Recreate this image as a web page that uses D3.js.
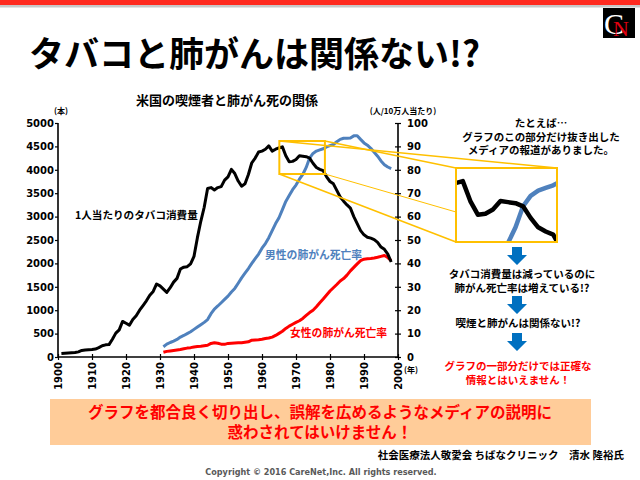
<!DOCTYPE html>
<html><head><meta charset="utf-8">
<script src="https://cdn.jsdelivr.net/npm/d3@7"></script>
<style>
body{margin:0;background:#fff;}
svg{display:block;}
.jp{font-family:"Noto Sans CJK JP","Noto Sans",sans-serif;font-weight:bold;}
.num{font-family:"DejaVu Sans",sans-serif;font-weight:bold;}
</style></head>
<body>
<svg id="c" width="640" height="480"></svg>
<script>
// ---------- data ----------
const cigStart = 1901;
const cigarettes = [75,80,85,90,95,110,140,150,155,160,
  170,200,240,260,265,380,510,580,760,720,
  680,800,880,1000,1100,1200,1320,1400,1560,1520,
  1450,1380,1480,1600,1680,1880,1920,1930,1990,2150,
  2550,2900,3200,3600,3620,3570,3620,3640,3780,3850,
  4010,3920,3760,3650,3700,3900,4150,4250,4380,4400,
  4440,4510,4400,4440,4470,4490,4300,4170,4180,4220,
  4300,4290,4280,4250,4140,4050,4010,3980,3850,3750,
  3700,3560,3420,3330,3250,3180,3000,2850,2700,2610,
  2560,2540,2510,2450,2350,2300,2200,2030];
const rateStart = 1931;
const maleRate = [4.4,5.5,6.2,6.8,7.5,8.5,9.2,10,10.8,11.8,
  12.8,13.8,14.8,16,18.5,20.5,21.8,23.2,24.6,26,
  27.8,29.3,31.5,33.8,35.8,37.8,40,42,44,46.5,
  48.5,51,54,57,59.5,63,66.5,69,71.5,73.5,
  76,78,81,85,87,88,88.5,89,89.8,90.3,
  90.8,92,93,93.5,93.5,93.6,94.5,94.6,93,91.5,
  90.5,89.2,87.5,85.8,83.8,82.2,81.2,80.5];
const femaleRate = [2.0,2.4,2.6,2.8,3.0,3.2,3.5,3.8,4.0,4.3,
  4.5,4.6,4.8,5.0,5.8,6.1,5.9,5.5,5.4,5.8,
  5.9,6.0,6.1,6.1,6.3,6.5,7.2,7.3,7.4,7.6,
  7.9,8.1,8.5,9.2,10.1,11,12.2,13.2,14,14.8,
  15.5,16.5,17.8,19,20,21.5,23.2,24.8,26.5,28.2,
  29.6,31,32.5,33.5,35,36.8,38.3,39.8,41.2,41.8,
  42,42.1,42.3,42.6,43,43.4,42.5,41.2];
const xTicks = [1900,1910,1920,1930,1940,1950,1960,1970,1980,1990,2000];
const leftTicks = [0,500,1000,1500,2000,2500,3000,3500,4000,4500,5000];
const rightTicks = [0,10,20,30,40,50,60,70,80,90,100];
const zoomYears = [1965.1, 1978.5];
const zoomCig = [3910, 4615];

const title = "タバコと肺がんは関係ない!?";
const chartTitle = "米国の喫煙者と肺がん死の関係";
const noteLines = ["たとえば…","グラフのこの部分だけ抜き出した","メディアの報道がありました。"];
const step1 = ["タバコ消費量は減っているのに","肺がん死亡率は増えている!?"];
const step2 = ["喫煙と肺がんは関係ない!?"];
const step3 = ["グラフの一部分だけでは正確な","情報とはいえません！"];
const boxLines = ["グラフを都合良く切り出し、誤解を広めるようなメディアの説明に","惑わされてはいけません！"];

// ---------- drawing ----------
const svg = d3.select("#c");
const BLUE = "#4F81BD", RED = "#FF0000", YEL = "#FFC000", ARW = "#0070C0";

// header bar
svg.append("rect").attr("x",0).attr("y",0).attr("width",640).attr("height",5).attr("fill","#FF2A1F");
svg.append("rect").attr("x",0).attr("y",5).attr("width",640).attr("height",2.5).attr("fill","#C8C8C8");
// logo
svg.append("rect").attr("x",603).attr("y",8).attr("width",32).attr("height",30).attr("fill","#000");
const logo = svg.append("text").attr("x",604).attr("y",34).attr("font-family","Liberation Serif");
logo.append("tspan").attr("font-size",30).attr("fill","#fff").text("C");
logo.append("tspan").attr("font-size",22).attr("fill","#E00010").attr("dx",-11).attr("dy",2).text("N");

svg.append("text").attr("class","jp").attr("x",29).attr("y",67).attr("font-size",35).attr("fill","#000").text(title);

const x = d3.scaleLinear().domain([1900,2000]).range([58,398]);
const yL = d3.scaleLinear().domain([0,5000]).range([357,123]);
const yR = d3.scaleLinear().domain([0,100]).range([357,123]);

svg.append("text").attr("class","jp").attr("x",227).attr("y",105).attr("text-anchor","middle").attr("font-size",13).text(chartTitle);
svg.append("text").attr("class","jp").attr("x",61).attr("y",114).attr("text-anchor","middle").attr("font-size",8).text("(本)");
svg.append("text").attr("class","jp").attr("x",403).attr("y",114).attr("text-anchor","middle").attr("font-size",8).text("(人/10万人当たり)");
svg.append("text").attr("class","jp").attr("x",404).attr("y",373).attr("font-size",8).text("(年)");

// axes
const gl = svg.append("g").attr("transform","translate(58,0)")
  .call(d3.axisLeft(yL).tickValues(leftTicks).tickSize(3).tickPadding(1).tickFormat(d=>d));
const gr = svg.append("g").attr("transform","translate(398,0)")
  .call(d3.axisRight(yR).tickValues(rightTicks).tickSize(3).tickPadding(6).tickFormat(d=>d));
gr.selectAll(".tick line").attr("x1",-3).attr("x2",3);
const gx = svg.append("g").attr("transform","translate(0,357)")
  .call(d3.axisBottom(x).tickValues(xTicks).tickSize(3).tickFormat(d=>d));
gx.selectAll(".tick line").attr("y1",-3).attr("y2",3);
gx.selectAll(".tick text").attr("transform","rotate(-90)").attr("text-anchor","end")
  .attr("x",-5).attr("y",0).attr("dy","0.36em");
[gl,gr,gx].forEach(g=>{
  g.selectAll(".domain").attr("stroke","#000").attr("stroke-width",1.6);
  g.selectAll(".tick line").attr("stroke","#000").attr("stroke-width",1.2);
  g.selectAll(".tick text").attr("class","num").attr("font-size",10).attr("fill","#000");
});
gl.select(".domain").attr("d","M0,357V123");
gr.select(".domain").attr("d","M0,357V123");
gx.select(".domain").attr("d","M58,0H398");

const cigData = cigarettes.map((v,i)=>({yr:cigStart+i,v}));
const maleData = maleRate.map((v,i)=>({yr:rateStart+i,v}));
const femData = femaleRate.map((v,i)=>({yr:rateStart+i,v}));

function drawLines(g, xs, yl, yr, w){
  g.append("path").datum(femData).attr("fill","none").attr("stroke",RED).attr("stroke-width",w)
    .attr("stroke-linejoin","round").attr("d",d3.line().x(d=>xs(d.yr)).y(d=>yr(d.v)));
  g.append("path").datum(maleData).attr("fill","none").attr("stroke",BLUE).attr("stroke-width",w)
    .attr("stroke-linejoin","round").attr("d",d3.line().x(d=>xs(d.yr)).y(d=>yr(d.v)));
  g.append("path").datum(cigData).attr("fill","none").attr("stroke","#000").attr("stroke-width",w)
    .attr("stroke-linejoin","round").attr("d",d3.line().x(d=>xs(d.yr)).y(d=>yl(d.v)));
}
drawLines(svg.append("g"), x, yL, yR, 3);

svg.append("text").attr("class","jp").attr("x",75).attr("y",219).attr("font-size",10.6).text("1人当たりのタバコ消費量");
svg.append("text").attr("class","jp").attr("x",265).attr("y",259).attr("font-size",10.8).attr("fill",BLUE).text("男性の肺がん死亡率");
svg.append("text").attr("class","jp").attr("x",290).attr("y",337).attr("font-size",10.8).attr("fill",RED).text("女性の肺がん死亡率");

// zoom box + inset
const sx0 = x(zoomYears[0]), sx1 = x(zoomYears[1]);
const sy0 = yL(zoomCig[1]), sy1 = yL(zoomCig[0]);
const bx0 = 456, bx1 = 557, by0 = 168, by1 = 242;
const conn = [
  [sx0,sy0,bx1,by0,1.6],[sx1,sy0,bx0,by0,1.6],[sx1,sy1,bx0,212,1],[sx0,sy1,bx0,by1,1.6]];
conn.forEach(c=>svg.append("line").attr("x1",c[0]).attr("y1",c[1]).attr("x2",c[2]).attr("y2",c[3])
  .attr("stroke",YEL).attr("stroke-width",c[4]));
svg.append("rect").attr("x",sx0).attr("y",sy0).attr("width",sx1-sx0).attr("height",sy1-sy0)
  .attr("fill","none").attr("stroke",YEL).attr("stroke-width",2);

svg.append("defs").append("clipPath").attr("id","ic").append("rect")
  .attr("x",bx0).attr("y",by0).attr("width",bx1-bx0).attr("height",by1-by0);
const xi = d3.scaleLinear().domain(zoomYears).range([bx0,bx1]);
const yiL = d3.scaleLinear().domain(zoomCig).range([by1,by0]);
const yiR = d3.scaleLinear().domain([yR.invert(sy1), yR.invert(sy0)]).range([by1,by0]);
svg.append("rect").attr("x",bx0).attr("y",by0).attr("width",bx1-bx0).attr("height",by1-by0).attr("fill","#fff");
drawLines(svg.append("g").attr("clip-path","url(#ic)"), xi, yiL, yiR, 4.5);
svg.append("rect").attr("x",bx0).attr("y",by0).attr("width",bx1-bx0).attr("height",by1-by0)
  .attr("fill","none").attr("stroke",YEL).attr("stroke-width",2);

// right-side notes
function lines(arr, cx, y0, dy, size, fill){
  arr.forEach((t,i)=>svg.append("text").attr("class","jp").attr("x",cx).attr("y",y0+i*dy)
    .attr("text-anchor","middle").attr("font-size",size).attr("fill",fill).text(t));
}
lines(noteLines, 541, 127, 13.5, 10.5, "#000");
function arrow(cx, top){
  svg.append("path").attr("fill",ARW)
    .attr("d",`M${cx-5},${top}H${cx+5}V${top+8}H${cx+10}L${cx},${top+18}L${cx-10},${top+8}H${cx-5}Z`);
}
arrow(517,247);
lines(step1, 522, 278, 14, 10.5, "#000");
arrow(517,296);
lines(step2, 518, 327, 14, 10.5, "#000");
arrow(517,333);
lines(step3, 518, 370, 13.5, 10.5, RED);

// bottom box
svg.append("rect").attr("x",50).attr("y",399).attr("width",541).attr("height",46).attr("fill","#FFCC99");
lines(boxLines, 320, 418, 20, 15.5, RED);
svg.append("text").attr("class","jp").attr("x",624).attr("y",459).attr("text-anchor","end").attr("font-size",10.5)
  .text("社会医療法人敬愛会 ちばなクリニック　清水 隆裕氏");
svg.append("text").attr("x",321).attr("y",475).attr("text-anchor","middle").attr("font-size",9)
  .attr("font-family","DejaVu Sans Condensed, DejaVu Sans").attr("font-weight","bold").attr("fill","#595959")
  .text("Copyright © 2016 CareNet,Inc. All rights reserved.");
</script>
</body></html>
